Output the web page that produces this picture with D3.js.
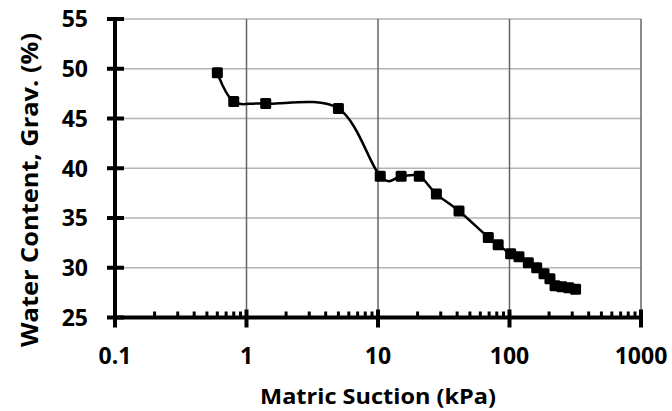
<!DOCTYPE html>
<html>
<head>
<meta charset="utf-8">
<script src="https://cdn.jsdelivr.net/npm/d3@7"></script>
<style>
  body { margin: 0; background: #fff; }
  text { font-family: "Open Sans", sans-serif; font-weight: bold; fill: #000; }
</style>
</head>
<body>
<div id="chart"></div>
<script>
// matric suction (kPa) and gravimetric water content (%)
var suction = [0.6, 0.8, 1.4, 5, 10.4, 15, 20.6, 27.8, 41.3, 69, 82, 102, 118, 139, 161, 183, 203, 222, 250, 282, 318];
var water   = [49.6, 46.7, 46.5, 46.0, 39.2, 39.2, 39.2, 37.4, 35.7, 33.05, 32.3, 31.4, 31.1, 30.5, 30.0, 29.4, 28.9, 28.2, 28.1, 28.0, 27.85];

var xTicks = [0.1, 1, 10, 100, 1000];
var xTickLabels = ["0.1", "1", "10", "100", "1000"];
var yTicks = [25, 30, 35, 40, 45, 50, 55];

var width = 672, height = 411;
var margin = { top: 19, right: 31, bottom: 94, left: 115 };

var svg = d3.select("#chart")
  .append("svg")
    .attr("width", width)
    .attr("height", height);

var x = d3.scaleLog()
  .domain([0.1, 1000])
  .range([margin.left, width - margin.right]);

var y = d3.scaleLinear()
  .domain([25, 55])
  .range([height - margin.bottom + 0.5, margin.top]);

// grid
svg.append("g")
  .selectAll("line")
  .data(yTicks.slice(1))
  .join("line")
    .attr("x1", x(0.1))
    .attr("x2", x(1000))
    .attr("y1", (d) => y(d))
    .attr("y2", (d) => y(d))
    .attr("stroke", "#b4b4b4")
    .attr("stroke-width", 1.5);

svg.append("g")
  .selectAll("line")
  .data(xTicks.slice(1))
  .join("line")
    .attr("x1", (d) => x(d))
    .attr("x2", (d) => x(d))
    .attr("y1", y(55))
    .attr("y2", y(25))
    .attr("stroke", "#666")
    .attr("stroke-width", 1.5);

// minor ticks on the x axis (2..9 of each decade)
var minor = [];
[0.1, 1, 10, 100].forEach((d) => {
  d3.range(2, 10).forEach((k) => minor.push(d * k));
});

var axis = svg.append("g");

axis.selectAll(".minor")
  .data(minor)
  .join("line")
    .attr("class", "minor")
    .attr("x1", (d) => x(d))
    .attr("x2", (d) => x(d))
    .attr("y1", y(25) - 6)
    .attr("y2", y(25))
    .attr("stroke", "#000")
    .attr("stroke-width", 3);

axis.selectAll(".xmajor")
  .data(xTicks)
  .join("line")
    .attr("class", "xmajor")
    .attr("x1", (d) => x(d))
    .attr("x2", (d) => x(d))
    .attr("y1", y(25) - 8)
    .attr("y2", y(25) + 10)
    .attr("stroke", "#000")
    .attr("stroke-width", 4);

axis.selectAll(".ymajor")
  .data(yTicks)
  .join("line")
    .attr("class", "ymajor")
    .attr("x1", x(0.1) - 8)
    .attr("x2", x(0.1) + 9)
    .attr("y1", (d) => y(d))
    .attr("y2", (d) => y(d))
    .attr("stroke", "#000")
    .attr("stroke-width", 4);

axis.append("line")
  .attr("x1", x(0.1))
  .attr("x2", x(0.1))
  .attr("y1", y(55))
  .attr("y2", y(25))
  .attr("stroke", "#000")
  .attr("stroke-width", 4);

axis.append("line")
  .attr("x1", x(0.1))
  .attr("x2", x(1000))
  .attr("y1", y(25))
  .attr("y2", y(25))
  .attr("stroke", "#000")
  .attr("stroke-width", 4);

// tick labels
svg.append("g")
  .selectAll("text")
  .data(yTicks)
  .join("text")
    .attr("x", x(0.1) - 27)
    .attr("y", (d) => y(d))
    .attr("dy", "0.36em")
    .attr("text-anchor", "end")
    .attr("font-size", 23)
    .text((d) => d);

svg.append("g")
  .selectAll("text")
  .data(xTicks)
  .join("text")
    .attr("x", (d) => x(d))
    .attr("y", 364)
    .attr("text-anchor", "middle")
    .attr("font-size", 23)
    .text((d, i) => xTickLabels[i]);

// axis titles
svg.append("text")
  .attr("x", x(10))
  .attr("y", 404)
  .attr("text-anchor", "middle")
  .attr("font-size", 22)
  .attr("textLength", 236)
  .attr("lengthAdjust", "spacingAndGlyphs")
  .text("Matric Suction (kPa)");

svg.append("text")
  .attr("transform", "translate(38,190) rotate(-90)")
  .attr("text-anchor", "middle")
  .attr("font-size", 23)
  .attr("textLength", 314)
  .attr("lengthAdjust", "spacingAndGlyphs")
  .text("Water Content, Grav. (%)");

// data
var pts = suction.map((s, i) => [x(s), y(water[i])]);

svg.append("path")
  .attr("d", d3.line().curve(d3.curveCardinal.tension(0))(pts))
  .attr("fill", "none")
  .attr("stroke", "#000")
  .attr("stroke-width", 2.5);

svg.append("g")
  .selectAll("rect")
  .data(pts)
  .join("rect")
    .attr("x", (d) => d[0] - 5.5)
    .attr("y", (d) => d[1] - 5.5)
    .attr("width", 11)
    .attr("height", 11)
    .attr("rx", 1.5)
    .attr("fill", "#000");
</script>
</body>
</html>
